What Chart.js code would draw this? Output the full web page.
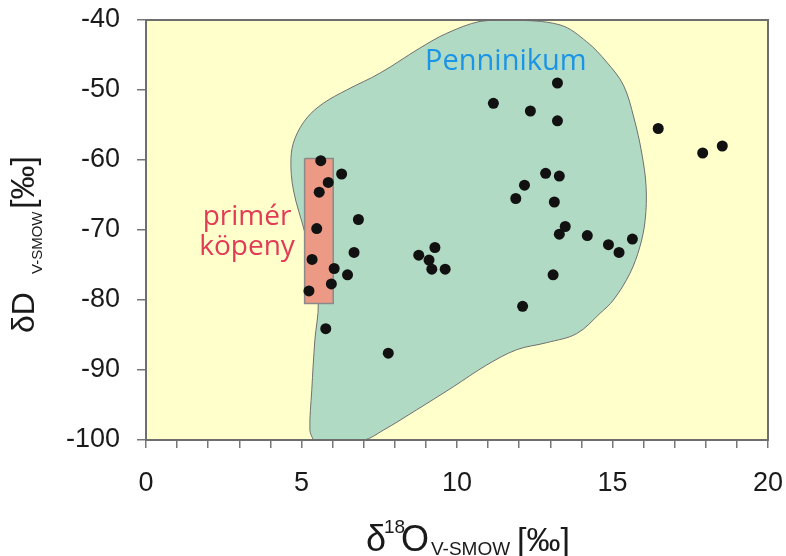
<!DOCTYPE html>
<html>
<head>
<meta charset="utf-8">
<title>δD – δ18O</title>
<script src="https://cdn.jsdelivr.net/npm/chart.js@4/dist/chart.umd.min.js"></script>
<style>
  html, body { margin: 0; padding: 0; background: #fff; }
  canvas { display: block; }
</style>
</head>
<body>
<canvas id="chart" width="786" height="556"></canvas>
<script>
/***************************************
 * Data
 ***************************************/
// measured samples (δ18O, δD)
const sampleX = [5.62, 6.29, 5.86, 5.57, 6.83, 5.49, 6.69, 5.34, 6.05, 6.48, 5.96, 5.24, 5.78, 7.79,
  13.23, 11.17, 12.36, 13.23, 16.47, 12.85, 13.29, 12.17, 11.89, 13.13, 13.48, 13.29, 14.19, 15.64,
  14.87, 15.21, 9.29, 8.77, 9.10, 9.19, 9.62, 13.09, 12.11, 17.90, 18.53];
const sampleY = [-60.1, -62.0, -63.2, -64.6, -68.5, -69.8, -73.2, -74.2, -75.5, -76.4, -77.7, -78.7, -84.1, -87.6,
  -49.0, -51.9, -53.0, -54.4, -55.5, -61.9, -62.3, -63.6, -65.5, -66.0, -69.5, -70.6, -70.8, -71.3,
  -72.1, -73.2, -72.5, -73.6, -74.3, -75.6, -75.6, -76.4, -80.9, -59.0, -58.0];

// outline of the Penninikum field
const penninX = [5.38, 5.27, 5.33, 5.43, 5.54, 5.35, 5.11, 4.74, 4.66, 4.79, 5.17, 5.70, 6.45, 7.52,
  8.81, 9.67, 10.74, 11.70, 13.31, 14.17, 14.81, 15.35, 15.69, 15.94, 16.08, 16.05, 15.88, 15.56,
  15.03, 14.60, 13.85, 12.88, 11.92, 10.95, 9.88, 8.70, 7.63, 6.99, 5.38];
const penninY = [-100, -98.6, -92.9, -85.7, -80.4, -75.0, -70.4, -64.3, -59.8, -56.9, -54.0, -51.9, -50.0, -47.6,
  -44.0, -41.9, -40.2, -40.0, -40.7, -43.1, -46.0, -49.3, -54.0, -59.0, -63.8, -68.6, -72.4, -76.2,
  -80.0, -81.9, -84.8, -86.1, -87.1, -89.3, -92.4, -95.7, -98.6, -100, -100];

// primary mantle box
const mantleX = [5.1, 6.02, 6.02, 5.1, 5.1];
const mantleY = [-59.8, -59.8, -80.5, -80.5, -59.8];

// axes
const xMin = 0, xMax = 20, xStep = 1, xLabelEvery = 5;
const yMin = -100, yMax = -40, yStep = 10;

// field labels [text, x, y, colour, size]
const fieldLabels = [
  ['Penninikum', 11.57, -47.1, '#1a94e6', 29],
  ['primér', 3.25, -69.3, '#e23b55', 28],
  ['köpeny', 3.25, -73.6, '#e23b55', 28]
];

function toPoints(xs, ys) {
  return xs.map((x, i) => ({ x: x, y: ys[i] }));
}

/***************************************
 * Plugins
 ***************************************/
// pale yellow plot area
const plotBG = {
  id: 'plotBG',
  beforeDatasetsDraw(chart) {
    const { ctx, chartArea: a } = chart;
    ctx.save();
    ctx.fillStyle = '#ffffcc';
    ctx.fillRect(a.left, a.top, a.right - a.left, a.bottom - a.top);
    ctx.restore();
  }
};

// frame, field labels and axis titles (need sub/superscripts)
const overlay = {
  id: 'overlay',
  afterDatasetsDraw(chart) {
    const { ctx, chartArea: a, scales } = chart;
    ctx.save();
    ctx.strokeStyle = '#6e6e6e';
    ctx.lineWidth = 2;
    ctx.strokeRect(a.left, a.top, a.right - a.left, a.bottom - a.top);

    ctx.textAlign = 'center';
    ctx.textBaseline = 'alphabetic';
    fieldLabels.forEach(l => {
      ctx.font = l[4] + 'px "Open Sans"';
      ctx.fillStyle = l[3];
      ctx.fillText(l[0], scales.x.getPixelForValue(l[1]), scales.y.getPixelForValue(l[2]));
    });
    ctx.restore();
  },
  afterDraw(chart) {
    const ctx = chart.ctx;
    ctx.save();
    ctx.fillStyle = '#1a1a1a';
    ctx.textAlign = 'left';
    ctx.textBaseline = 'alphabetic';

    // x title
    ctx.translate(366, 551);
    ctx.font = '36px "Liberation Sans"';
    ctx.fillText('δ', 0, 0);
    ctx.font = '19px "Liberation Sans"';
    ctx.fillText('18', 18, -18);
    ctx.font = '36px "Liberation Sans"';
    ctx.fillText('O', 35, 0);
    ctx.font = '19px "Liberation Sans"';
    ctx.fillText('V-SMOW', 65, 4);
    ctx.font = '34px "Liberation Sans"';
    ctx.fillText('[‰]', 151, 0);
    ctx.setTransform(1, 0, 0, 1, 0, 0);

    // y title
    ctx.translate(34, 333);
    ctx.rotate(-Math.PI / 2);
    ctx.font = '32px "Liberation Sans"';
    ctx.fillText('δD', 0, 0);
    ctx.font = '15px "Liberation Sans"';
    ctx.fillText('V-SMOW', 59, 8);
    ctx.font = '34px "Liberation Sans"';
    ctx.fillText('[‰]', 124, 0);
    ctx.restore();
  }
};

/***************************************
 * Chart
 ***************************************/
const tickFont = { family: '"Liberation Sans"', size: 27 };

new Chart(document.getElementById('chart'), {
  type: 'line',
  data: {
    datasets: [
      {
        label: 'samples',
        data: toPoints(sampleX, sampleY),
        showLine: false,
        pointRadius: 5.5,
        pointBackgroundColor: '#111',
        pointBorderWidth: 0,
        order: 0
      },
      {
        label: 'primér köpeny',
        data: toPoints(mantleX, mantleY),
        showLine: true,
        tension: 0,
        borderColor: '#8a8a8a',
        borderWidth: 1.5,
        backgroundColor: '#ec9a86',
        fill: 'shape',
        pointRadius: 0,
        order: 1
      },
      {
        label: 'Penninikum',
        data: toPoints(penninX, penninY),
        showLine: true,
        tension: 0.35,
        borderColor: '#707070',
        borderWidth: 1,
        backgroundColor: '#b1dac4',
        fill: 'shape',
        pointRadius: 0,
        order: 2
      }
    ]
  },
  options: {
    responsive: false,
    animation: false,
    events: [],
    layout: { padding: { top: 20, right: 18, left: 0, bottom: 0 } },
    plugins: { legend: { display: false }, tooltip: { enabled: false } },
    scales: {
      x: {
        type: 'linear',
        min: xMin, max: xMax,
        afterFit(scale) {
          scale.height = 116;
          scale.paddingLeft = 0;
          scale.paddingRight = 0;
        },
        border: { display: false },
        grid: { drawOnChartArea: false, color: '#777', tickLength: 8, lineWidth: 1.5 },
        ticks: {
          stepSize: xStep,
          autoSkip: false,
          maxRotation: 0,
          padding: 19,
          color: '#1a1a1a',
          font: tickFont,
          callback: v => (v % xLabelEvery === 0 ? String(v) : '')
        }
      },
      y: {
        type: 'linear',
        min: yMin, max: yMax,
        afterFit(scale) {
          scale.width = 146;
          scale.paddingTop = 0;
          scale.paddingBottom = 0;
        },
        border: { display: false },
        grid: { drawOnChartArea: false, color: '#777', tickLength: 9, lineWidth: 1.5 },
        ticks: {
          stepSize: yStep,
          padding: 17,
          color: '#1a1a1a',
          font: tickFont
        }
      }
    }
  },
  plugins: [plotBG, overlay]
});
</script>
</body>
</html>
